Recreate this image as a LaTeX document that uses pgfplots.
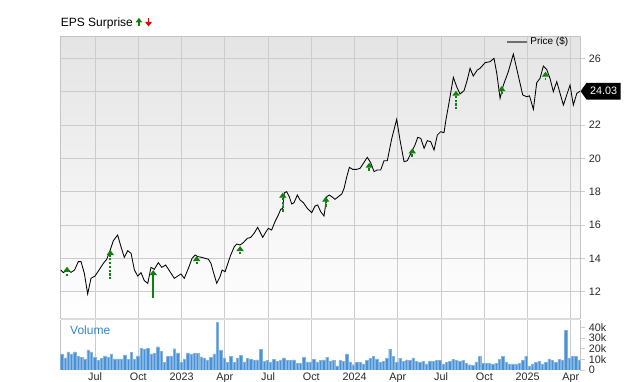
\documentclass[border=0pt]{standalone}
\usepackage{fontspec}
\setmainfont{Liberation Sans}
\usepackage{pgfplots}
\usepackage{pgfplotstable}
\pgfplotsset{compat=1.18}
\usetikzlibrary{arrows.meta,shapes.symbols}
\definecolor{gridc}{RGB}{204,204,204}
\definecolor{bordc}{RGB}{196,196,196}
\definecolor{sepc}{RGB}{220,220,220}
\definecolor{labc}{RGB}{40,40,40}
\definecolor{epsgreen}{RGB}{16,128,16}
\definecolor{epsred}{RGB}{232,0,0}
\definecolor{volc}{RGB}{74,144,212}
\definecolor{volline}{RGB}{130,180,228}
\definecolor{voltext}{RGB}{52,132,204}
\definecolor{topgray}{RGB}{228,228,228}

\pgfplotstableread{
m p
3.62 13.30
3.80 13.14
4.06 13.30
4.34 13.16
4.58 13.30
4.84 13.80
5.03 13.80
5.26 13.10
5.49 11.86
5.72 12.80
6.00 12.94
6.28 13.30
6.58 13.70
6.81 13.94
7.04 14.46
7.27 15.06
7.57 15.40
7.80 14.70
8.03 14.06
8.27 14.46
8.50 14.30
8.73 13.30
8.96 12.94
9.19 13.14
9.42 12.66
9.66 12.50
9.88 13.46
10.11 13.34
10.39 13.74
10.63 13.46
10.90 13.60
11.20 13.20
11.50 12.80
11.74 12.94
11.96 13.06
12.19 12.80
12.52 13.50
12.73 14.00
12.94 14.20
13.14 14.10
13.40 14.06
13.63 14.00
13.86 13.95
14.04 13.70
14.20 13.20
14.44 12.50
14.67 12.90
14.81 13.30
15.02 13.20
15.41 14.20
15.66 14.70
15.83 14.86
16.06 14.80
16.28 14.94
16.56 15.20
16.79 15.25
17.03 15.50
17.28 15.86
17.49 15.50
17.63 15.26
17.86 15.60
18.02 15.80
18.25 15.70
18.48 16.20
18.71 16.60
18.88 16.94
19.02 17.00
19.13 17.94
19.29 18.00
19.47 17.70
19.64 17.26
19.80 17.34
20.03 17.80
20.22 17.50
20.45 17.34
20.72 17.00
21.03 16.74
21.26 17.14
21.44 17.20
21.65 16.80
21.88 16.54
22.07 17.70
22.25 17.80
22.48 17.66
22.64 17.54
22.87 17.70
23.11 17.86
23.27 18.20
23.46 18.90
23.64 19.46
23.87 19.34
24.15 19.34
24.38 19.40
24.61 19.70
24.88 20.06
25.12 19.74
25.35 19.20
25.56 19.30
25.81 19.30
26.04 19.86
26.27 19.86
26.58 21.20
26.92 22.34
27.15 21.10
27.43 19.80
27.66 19.86
27.96 20.40
28.19 20.80
28.38 21.26
28.59 21.20
28.82 20.60
29.04 21.06
29.28 21.00
29.51 20.50
29.74 21.40
29.97 21.60
30.20 21.54
30.34 22.34
30.50 23.10
30.85 24.86
31.08 24.30
31.31 23.86
31.59 24.06
31.78 24.60
32.01 25.40
32.23 24.94
32.51 25.30
32.70 25.40
33.05 25.74
33.39 25.80
33.67 26.00
33.86 25.10
34.09 23.60
34.32 24.40
34.66 25.20
35.01 26.26
35.29 25.20
35.66 23.80
35.94 23.70
36.13 23.75
36.40 22.94
36.63 24.54
36.86 24.80
37.09 25.54
37.32 25.34
37.55 24.80
37.78 24.00
38.02 24.60
38.25 23.90
38.48 23.20
38.71 23.80
38.94 24.40
39.17 23.20
39.41 23.90
39.63 24.03
}\pricetable

\pgfplotstableread{
x y v
4.06 12.94 0.56
7.06 12.74 1.76
13.05 13.66 0.48
16.06 14.26 0.48
19.02 16.80 1.14
22.00 17.10 0.60
25.02 19.26 0.48
28.00 20.10 0.50
31.03 22.94 1.12
34.20 23.86 0.48
37.24 24.70 0.50
}\epsdashed

\pgfplotstableread{
x y v
10.04 11.60 1.70
}\epssolid

\pgfplotstableread{
x v
3.68 15.2
3.91 11.4
4.14 17.1
4.37 15.2
4.60 17.1
4.83 13.0
5.06 12.0
5.29 9.8
5.52 19.0
5.75 17.1
5.98 12.0
6.21 8.9
6.44 10.8
6.67 13.3
6.90 12.0
7.13 15.2
7.36 10.5
7.59 10.5
7.82 10.5
8.05 14.3
8.28 10.1
8.51 16.5
8.74 10.1
8.97 13.3
9.20 20.6
9.43 19.7
9.66 20.3
9.89 15.2
10.12 15.5
10.35 21.9
10.58 17.7
10.81 7.0
11.04 12.7
11.27 13.3
11.50 20.0
11.73 16.2
11.96 7.3
12.19 10.5
12.42 16.2
12.65 14.6
12.88 15.5
13.11 15.5
13.34 12.4
13.57 10.8
13.80 8.9
14.03 12.0
14.26 15.2
14.49 44.7
14.72 19.0
14.95 11.4
15.18 7.0
15.41 12.7
15.64 7.3
15.87 11.4
16.10 14.0
16.33 7.6
16.56 10.8
16.79 10.1
17.02 9.5
17.25 9.5
17.48 19.3
17.71 8.2
17.94 9.2
18.17 7.0
18.40 10.1
18.63 8.2
18.86 9.5
19.09 11.4
19.32 8.9
19.55 8.9
19.78 9.5
20.01 6.3
20.24 6.3
20.47 12.0
20.70 7.6
20.93 7.6
21.16 10.1
21.39 7.6
21.62 9.2
21.85 9.5
22.08 12.0
22.31 8.2
22.54 8.9
22.77 3.8
23.00 8.9
23.23 8.2
23.46 15.2
23.69 7.6
23.92 5.0
24.15 7.0
24.38 7.3
24.61 5.7
24.84 8.9
25.07 10.8
25.30 13.0
25.53 10.5
25.76 7.0
25.99 8.2
26.22 10.8
26.45 19.7
26.68 13.0
26.91 7.0
27.14 11.1
27.37 8.2
27.60 9.5
27.83 9.2
28.06 11.4
28.29 8.2
28.52 7.0
28.75 8.2
28.98 5.7
29.21 8.2
29.44 7.9
29.67 8.9
29.90 9.2
30.13 5.7
30.36 7.3
30.59 7.9
30.82 10.1
31.05 9.2
31.28 8.2
31.51 8.9
31.74 6.3
31.97 5.0
32.20 4.4
32.43 7.6
32.66 12.7
32.89 6.3
33.12 6.3
33.35 6.3
33.58 5.7
33.81 6.3
34.04 10.1
34.27 13.0
34.50 7.6
34.73 5.7
34.96 5.7
35.19 5.7
35.42 6.3
35.65 8.9
35.88 12.7
36.11 3.8
36.34 5.7
36.57 7.0
36.80 8.2
37.03 5.7
37.26 7.0
37.49 10.5
37.72 8.9
37.95 7.6
38.18 10.1
38.41 8.9
38.64 37.4
38.87 10.8
39.10 12.7
39.33 12.7
39.56 8.9
}\voltable

\begin{document}
\begin{tikzpicture}[x=1pt,y=1pt]
\useasboundingbox (0,0) rectangle (640,382);
\begin{axis}[
  name=price,
  at={(60.7pt,64pt)}, anchor=south west,
  scale only axis, width=519.7pt, height=281.3pt,
  xmin=3.62, xmax=39.66, ymin=10.42, ymax=27.3,
  xtick={6,9,...,39}, xticklabels={,,,,,,,,,,,},
  x tick style={draw=none},
  ytick={12,14,...,26},
  yticklabels={12,14,16,18,20,22,24,26},
  ytick pos=right, yticklabel pos=right,
  tick align=outside, major tick length=5pt,
  y tick style={gridc, line width=0.8pt},
  tick label style={font=\fontsize{10.8}{12}\selectfont, text=labc},
  grid=major, major grid style={gridc, line width=0.8pt},
  axis line style={bordc, line width=0.8pt},
  axis background/.style={top color=topgray, bottom color=white},
  legend style={at={(1,1)}, anchor=north east, xshift=-7pt, yshift=3.5pt,
    draw=none, fill=none, font=\fontsize{10}{12}\selectfont,
    cells={anchor=west}},
  legend image code/.code={\draw[#1] (0pt,0pt) -- (20pt,0pt);},
]
\addlegendimage{line width=2pt, color={rgb,255:red,110;green,110;blue,110}}
\addlegendentry{Price (\$)}
\addplot[black, line width=0.85pt, forget plot] table[x=m, y=p] {\pricetable};
\addplot[epsgreen, line width=1.9pt, dash pattern=on 2.2pt off 1.6pt,
  -{Triangle[width=7pt,length=5pt]}, forget plot,
  quiver={u=0, v=\thisrow{v}}] table[x=x, y=y] {\epsdashed};
\addplot[epsgreen, line width=1.9pt,
  -{Triangle[width=7pt,length=5pt]}, forget plot,
  quiver={u=0, v=\thisrow{v}}] table[x=x, y=y] {\epssolid};
\coordinate (lastp) at (axis cs:39.66,24.03);
\end{axis}

\begin{axis}[
  name=vol,
  at={(60.7pt,12pt)}, anchor=south west,
  scale only axis, width=519.7pt, height=50pt,
  xmin=3.62, xmax=39.66, ymin=0, ymax=47,
  xtick={6,9,...,39},
  xticklabels={Jul,Oct,2023,Apr,Jul,Oct,2024,Apr,Jul,Oct,2025,Apr},
  x tick style={draw=none},
  xticklabel style={yshift=5.5pt},
  ytick={0,10,20,30,40},
  yticklabels={0,10k,20k,30k,40k},
  ytick pos=right, yticklabel pos=right,
  tick align=outside, major tick length=5pt,
  y tick style={gridc, line width=0.8pt},
  tick label style={font=\fontsize{10.8}{12}\selectfont, text=labc},
  xmajorgrids, major grid style={gridc, line width=0.8pt},
  separate axis lines,
  x axis line style={draw=none},
  y axis line style={bordc, line width=0.8pt},
]
\addplot[ybar, bar width=2.4pt, fill=volc, draw=volline, line width=0.3pt]
  table[x=x, y=v] {\voltable};
\end{axis}

\draw[sepc, line width=2pt] (60.7,63) -- (580.4,63);

\node[anchor=base west, inner sep=0pt, font=\fontsize{12}{14}\selectfont]
  (ttl) at ([yshift=10.2pt]price.north west) {EPS Surprise};
\draw[epsgreen, line width=1.8pt, -{Triangle[width=6.5pt,length=4.5pt]}]
  ([xshift=5.8pt]ttl.base east) -- ++(0,8.6);
\draw[epsred, line width=1.8pt, -{Triangle[width=6.5pt,length=4.5pt]}]
  ([xshift=15.4pt,yshift=8pt]ttl.base east) -- ++(0,-8);

\node[anchor=base west, inner sep=0pt, font=\fontsize{12}{14}\selectfont, text=voltext]
  at ([xshift=9.3pt,yshift=-14.5pt]vol.north west) {Volume};

\node[signal, signal to=west, signal pointer angle=110, fill=black, text=white,
  minimum height=16.7pt, minimum width=40pt, inner sep=1pt, anchor=west,
  font=\fontsize{10.8}{12}\selectfont] at (lastp) {24.03};
\end{tikzpicture}
\end{document}
